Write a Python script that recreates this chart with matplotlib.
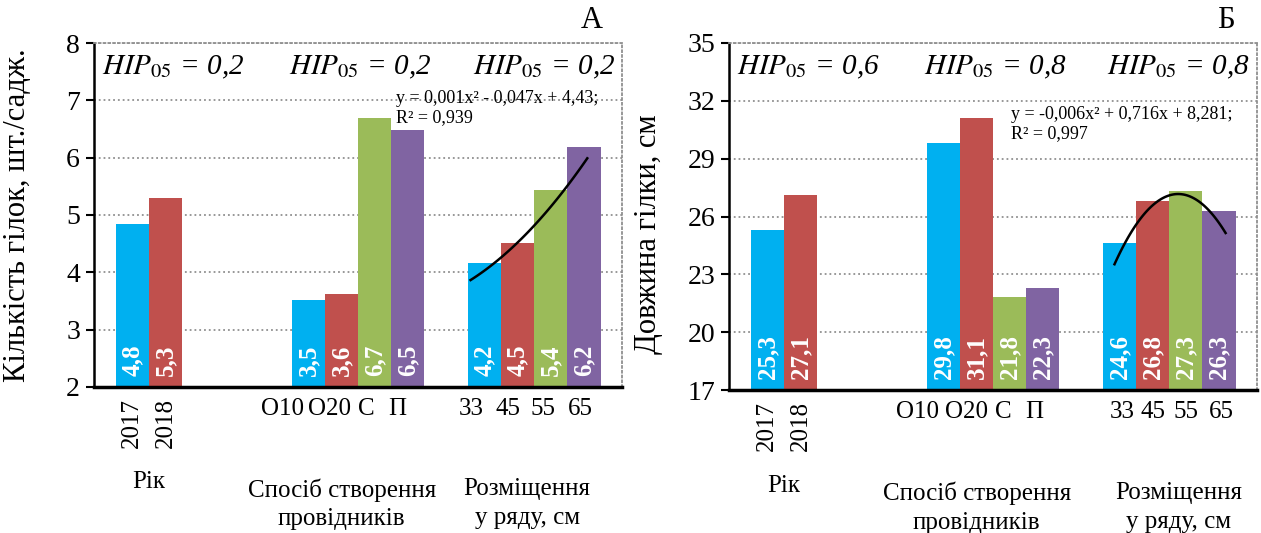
import numpy as np
import matplotlib.pyplot as plt
import matplotlib.transforms as mtransforms

plt.rcParams['font.family'] = ['Liberation Serif', 'DejaVu Serif']
plt.rcParams['mathtext.fontset'] = 'stix'

# categories (3 groups)
categories = ['2017', '2018', 'О10', 'О20', 'С', 'П', '33', '45', '55', '65']
group_names = ['Рік', 'Спосіб створення\nпровідників', 'Розміщення\nу ряду, см']
group_sizes = [2, 4, 4]

# panel А - number of branches
count_values = [4.85, 5.30, 3.51, 3.63, 6.70, 6.49, 4.17, 4.52, 5.44, 6.19]
count_labels = ['4,8', '5,3', '3,5', '3,6', '6,7', '6,5', '4,2', '4,5', '5,4', '6,2']
count_hip = ['0,2', '0,2', '0,2']
count_trend_x = [11.39, 12.25, 12.99, 13.53, 14.23, 14.92]
count_trend_y = [3.90, 4.15, 4.63, 5.00, 5.45, 5.97]

# panel Б - branch length
length_values = [25.3, 27.1, 29.8, 31.1, 21.8, 22.3, 24.6, 26.8, 27.3, 26.3]
length_labels = ['25,3', '27,1', '29,8', '31,1', '21,8', '22,3', '24,6', '26,8', '27,3', '26,3']
length_hip = ['0,6', '0,8', '0,8']
length_trend_x = [11.66, 12.37, 13.77, 14.34, 15.02]
length_trend_y = [23.55, 25.67, 27.12, 26.67, 25.11]

colors = ['#00B0F0', '#C0504D', '#00B0F0', '#C0504D', '#9BBB59', '#8064A2',
          '#00B0F0', '#C0504D', '#9BBB59', '#8064A2']

# bar positions: groups start at these x, bars are 1 unit wide
group_starts = [0.66, 5.99, 11.32]
xpos = []
for start, n in zip(group_starts, group_sizes):
    xpos += [start + 0.5 + i for i in range(n)]
group_centers = [np.mean(xpos[0:2]), np.mean(xpos[2:6]), np.mean(xpos[6:10])]


def draw_panel(ax, values, labels, ymin, ymax, step, ylabel, hip, eq, tx, ty,
               letter, letter_x, groups_x, tick_shift, ylab_pos):
    ax.bar(xpos, np.array(values) - ymin, width=1.0, bottom=ymin, color=colors, zorder=2)
    ax.set_xlim(0, 15.97)
    ax.set_ylim(ymin, ymax)
    ax.set_yticks(np.arange(ymin, ymax + 0.1, step))
    ax.tick_params(axis='y', labelsize=20, length=6, width=1.5, direction='out', pad=4)
    ax.grid(axis='y', linestyle=':', color='#909090', linewidth=1.3, zorder=0)

    ax.spines['left'].set_linewidth(1.8)
    ax.spines['bottom'].set_linewidth(2.5)
    ax.spines['bottom'].set_zorder(3)
    for s in ['top', 'right']:
        ax.spines[s].set_linestyle(':')
        ax.spines[s].set_color('#909090')
        ax.spines[s].set_linewidth(1.3)

    ax.set_xticks(xpos)
    ax.set_xticklabels(categories)
    ax.tick_params(axis='x', length=0, labelsize=18, pad=8)
    for i, lab in enumerate(ax.get_xticklabels()):
        if i < 2:
            lab.set_rotation(90)
            lab.set_va('top')
        else:
            off = mtransforms.ScaledTranslation(tick_shift[i - 2] / 100, 0, ax.figure.dpi_scale_trans)
            lab.set_transform(lab.get_transform() + off)

    # value labels inside bars
    for x, lab in zip(xpos, labels):
        ax.annotate(lab, (x, ymin), xytext=(0, 11), textcoords='offset pixels',
                    rotation=90, ha='center', va='bottom', color='white',
                    fontsize=18, fontweight='bold', zorder=4)

    # trend line
    coef = np.polyfit(tx, ty, 2)
    xs = np.linspace(min(tx), max(tx), 100)
    ax.plot(xs, np.polyval(coef, xs), color='black', linewidth=1.8, zorder=5)

    # HIP05
    for xf, v in zip([0.150, 0.505, 0.852], hip):
        ax.text(xf, 0.93, r'$\mathit{HIP}_{\mathit{05}}$' + ' = ' + v, transform=ax.transAxes,
                ha='center', va='center', fontsize=21, fontstyle='italic')

    ax.text(eq[0], eq[1], eq[2], transform=ax.transAxes, ha='left', va='center',
            fontsize=13, linespacing=1.15)

    trans = mtransforms.blended_transform_factory(ax.transData, ax.transAxes)
    for gx, gy, name in zip(groups_x, [-0.245, -0.265, -0.265], group_names):
        ax.text(gx, gy, name, transform=trans, ha='center', va='top',
                fontsize=18, linespacing=1.4)

    ax.set_ylabel(ylabel, fontsize=22)
    ax.yaxis.set_label_coords(*ylab_pos)
    ax.figure.text(letter_x, 0.962, letter, fontsize=22, ha='center', va='center')


fig = plt.figure(figsize=(12.61, 5.33), dpi=100)
ax1 = fig.add_axes([94 / 1261, 146 / 533, 528 / 1261, 344 / 533])
ax2 = fig.add_axes([729 / 1261, 143 / 533, 528 / 1261, 347 / 533])

draw_panel(ax1, count_values, count_labels, 2, 8, 1, 'Кількість гілок, шт./садж.', count_hip,
           (0.572, 0.81, 'y = 0,001x² - 0,047x + 4,43;\nR² = 0,939'),
           count_trend_x, count_trend_y, 'А', 0.469,
           [group_centers[0], 7.49, 13.1],
           [-26, -12, -8, -10, -14, -10, -8, -4], (-0.118, 0.5))
draw_panel(ax2, length_values, length_labels, 17, 35, 3, 'Довжина гілки, см', length_hip,
           (0.534, 0.767, 'y = -0,006x² + 0,716x + 8,281;\nR² = 0,997'),
           length_trend_x, length_trend_y, 'Б', 0.972,
           [group_centers[0], 7.49, 13.6],
           [-26, -10, -6, -8, 2, 0, 0, 2], (-0.125, 0.45))

fig.savefig('out.png', dpi=100)
